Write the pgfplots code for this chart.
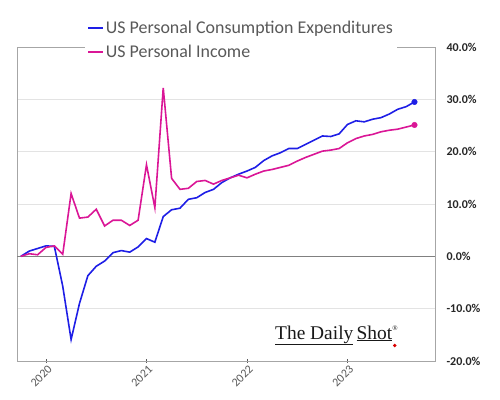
\documentclass[border=0pt]{standalone}
\usepackage{pgfplots}
\pgfplotsset{compat=1.18}
\usepackage{fontspec}
\setmainfont{Carlito}
\newfontfamily\logofont{Liberation Serif}
\definecolor{pceblue}{RGB}{30,30,230}
\definecolor{incpink}{RGB}{218,22,150}
\definecolor{axgray}{RGB}{166,166,166}
\definecolor{txtgray}{RGB}{89,89,89}
\begin{document}
\begin{tikzpicture}[x=1bp,y=1bp]
\path[use as bounding box] (0,0) rectangle (500,399);
\begin{axis}[
  at={(17bp,38bp)}, anchor=south west,
  scale only axis, width=418bp, height=314bp,
  xmin=-3.46, xmax=46.45, ymin=-20, ymax=40,
  axis line style={axgray, line width=0.8pt},
  xtick={0,12,24,36}, xticklabels={2020,2021,2022,2023},
  xtick pos=bottom, tick align=center, major tick length=4bp,
  xtick style={txtgray, line width=0.6pt},
  xticklabel style={rotate=45, anchor=east, font=\fontsize{12}{14}\selectfont, text=txtgray, xshift=3bp, yshift=-6bp},
  ytick={-20,-10,0,10,20,30,40},
  yticklabel pos=right, ytick style={draw=none},
  yticklabel={\pgfmathprintnumber[fixed,fixed zerofill,precision=1]{\tick}\%},
  /pgf/number format/assume math mode=true,
  yticklabel style={anchor=west, xshift=6bp, font=\bfseries\fontsize{12}{14}\selectfont, text=black!85},
  ymajorgrids, grid style={gray!22, line width=0.6pt},
  legend style={at={(0.163,1.092)}, anchor=north west, draw=none, fill=white,
    font=\fontsize{18}{20}\selectfont, row sep=6bp,
    inner xsep=2bp, inner ysep=1bp},
  legend cell align=left,
  legend image code/.code={\draw[#1, line width=1.6pt] (0bp,0bp) -- (15bp,0bp);},
]
\draw[gray, line width=1.1pt] (rel axis cs:0,0.3333) -- (rel axis cs:1,0.3333);
\addplot[pceblue, line width=1.6pt] coordinates {
(-3,0) (-2,1.0) (-1,1.5) (0,2.0) (1,1.9) (2,-5.7) (3,-15.9) (4,-9.0) (5,-3.7) (6,-1.9)
(7,-0.9) (8,0.7) (9,1.1) (10,0.8) (11,1.8) (12,3.4) (13,2.7) (14,7.6) (15,8.9) (16,9.2)
(17,10.9) (18,11.2) (19,12.2) (20,12.8) (21,14.1) (22,15.0) (23,15.7) (24,16.3) (25,17.0)
(26,18.3) (27,19.2) (28,19.8) (29,20.6) (30,20.6) (31,21.4) (32,22.2) (33,23.0) (34,22.9)
(35,23.4) (36,25.2) (37,25.9) (38,25.7) (39,26.2) (40,26.5) (41,27.2) (42,28.1) (43,28.6) (44,29.5)
};
\addlegendentry{\textcolor{txtgray}{US Personal Consumption Expenditures}}
\addplot[incpink, line width=1.6pt] coordinates {
(-3,0) (-2,0.5) (-1,0.3) (0,1.7) (1,2.0) (2,0.4) (3,12.0) (4,7.3) (5,7.5) (6,9.0)
(7,5.8) (8,6.9) (9,6.9) (10,5.9) (11,6.9) (12,17.5) (13,9.3) (14,32.2) (15,14.9) (16,12.8)
(17,13.0) (18,14.3) (19,14.5) (20,13.8) (21,14.5) (22,15.0) (23,15.5) (24,15.0) (25,15.7)
(26,16.3) (27,16.6) (28,17.0) (29,17.4) (30,18.2) (31,18.9) (32,19.5) (33,20.1) (34,20.3)
(35,20.6) (36,21.7) (37,22.5) (38,23.0) (39,23.3) (40,23.8) (41,24.1) (42,24.3) (43,24.7) (44,25.1)
};
\addlegendentry{\textcolor{txtgray}{US Personal Income}}
\addplot[pceblue, only marks, mark=*, mark size=2.8bp, forget plot] coordinates {(44,29.5)};
\addplot[incpink, only marks, mark=*, mark size=2.8bp, forget plot] coordinates {(44,25.1)};
\node[anchor=base, inner sep=0pt, font=\logofont\fontsize{19.5}{21}\selectfont, text=black!90] (logo) at (rel axis cs:0.764,0.070)
  {\underline{The Daily}\,\underline{Shot}\raisebox{0.9ex}{\fontsize{7}{7}\selectfont\textregistered}};
\fill[red!85!black] ([xshift=-3bp,yshift=-6.5bp]logo.base east) circle (1.9bp);
\end{axis}
\end{tikzpicture}
\end{document}
